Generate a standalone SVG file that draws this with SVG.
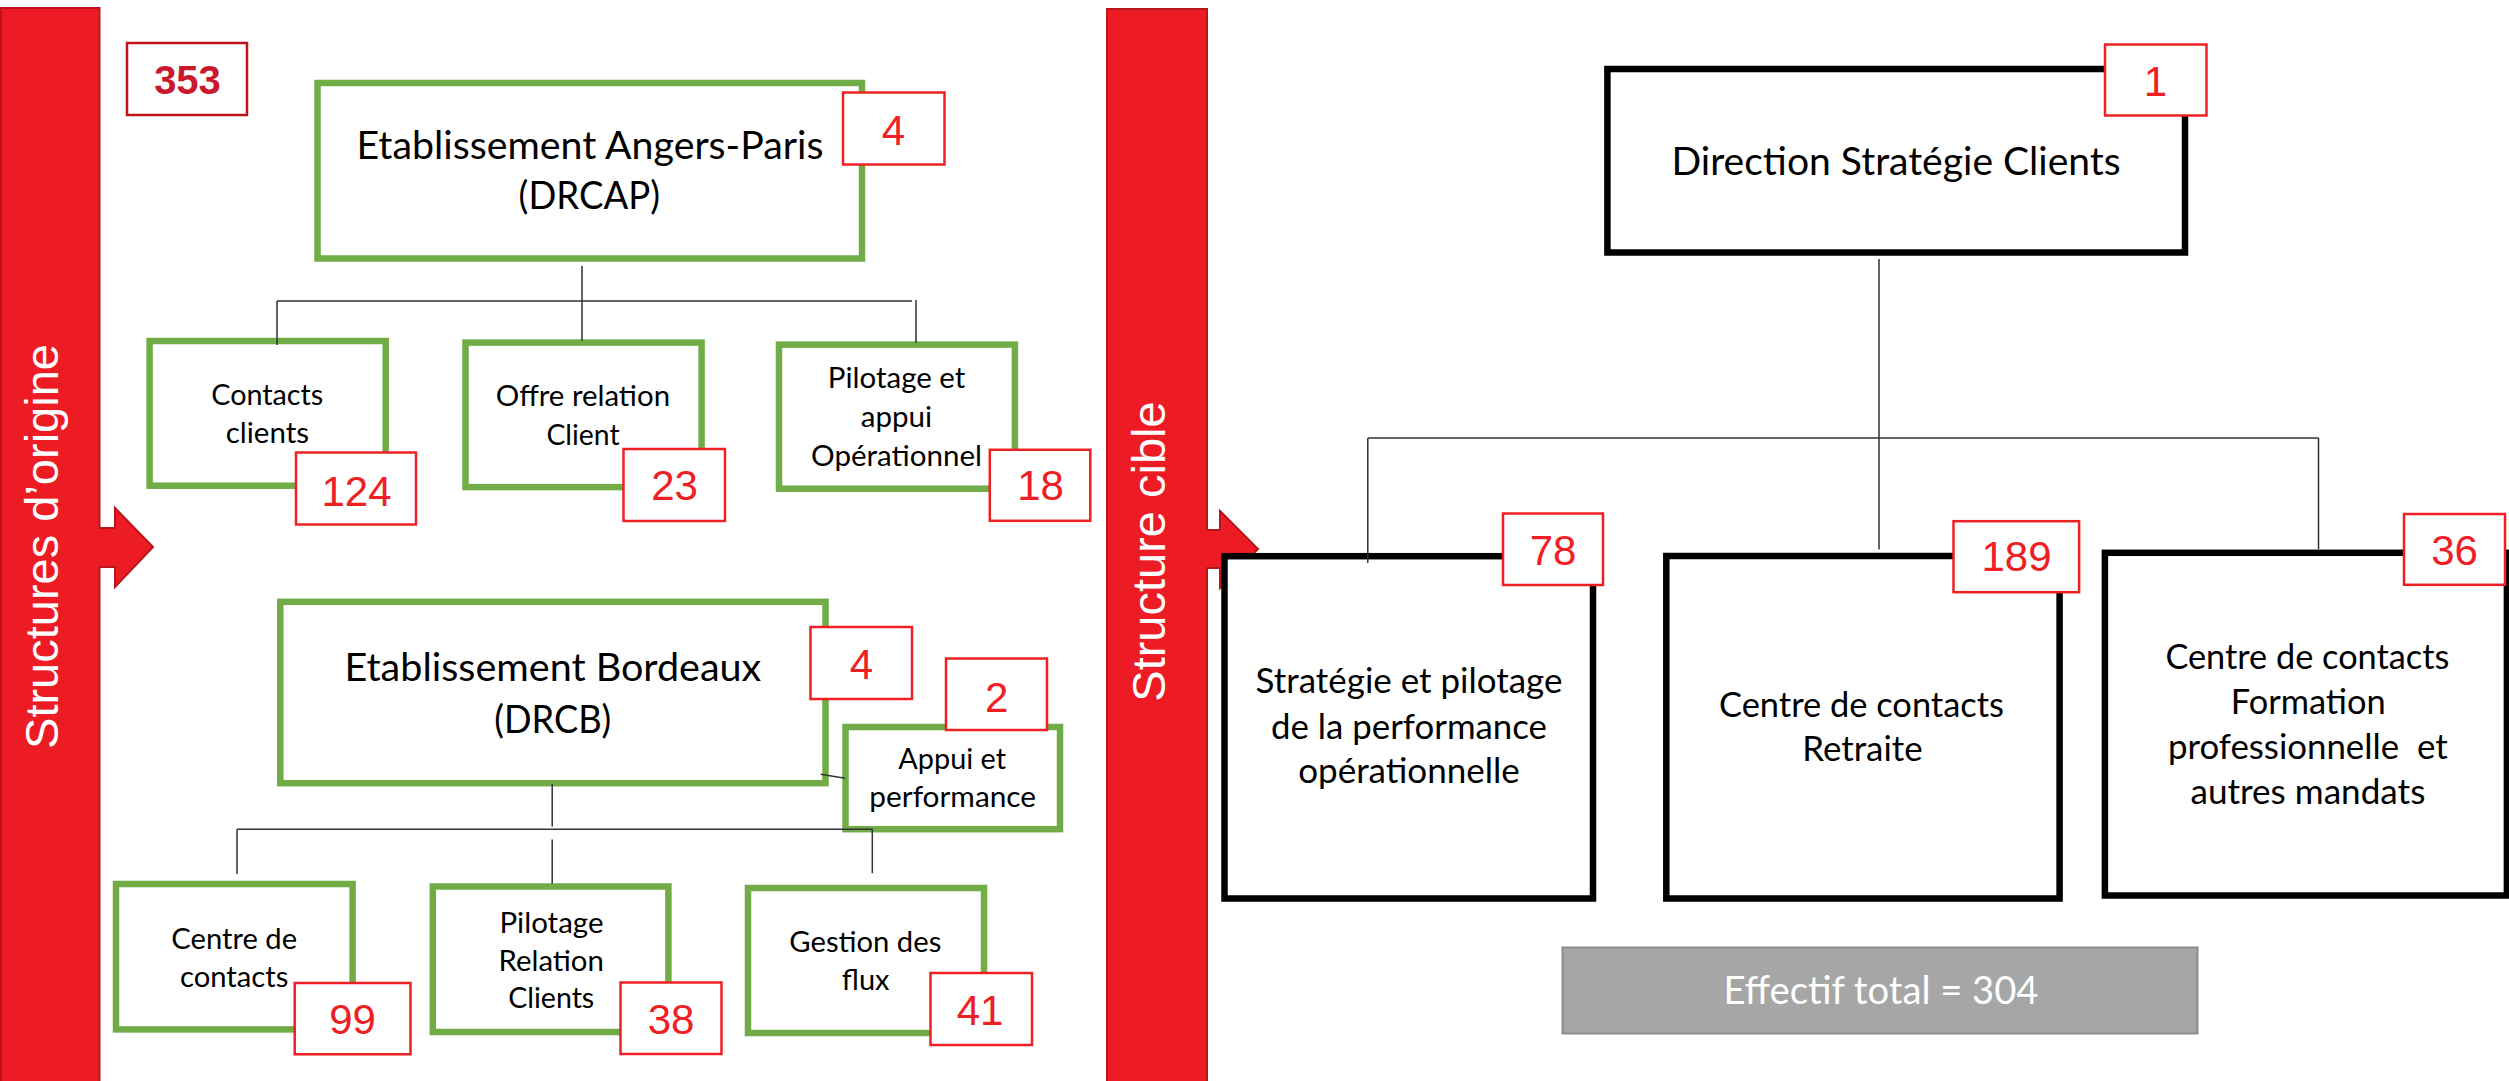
<svg xmlns="http://www.w3.org/2000/svg" width="2509" height="1081" viewBox="0 0 2509 1081">
<style>
.g{fill:#fff;stroke:#70AD47;stroke-width:6.5}
.k{fill:#fff;stroke:#000;stroke-width:6.5}
.n{fill:#fff;stroke:#EE2024;stroke-width:2.5}
.nt{font-family:"Liberation Sans",Arial,sans-serif;font-size:42px;fill:#EE2024;text-anchor:middle}
.t{font-family:Lato,"Open Sans",sans-serif;fill:#000;text-anchor:middle}
.t1{font-size:38px}
.t2{font-size:29.5px}
.t3{font-size:34px}
.bar{fill:#ED1C24;stroke:#B8151C;stroke-width:2}
.bt{font-family:"Liberation Sans",Arial,sans-serif;font-size:47px;fill:#fff;text-anchor:middle}
.conn{fill:none;stroke:#333;stroke-width:1.5}
</style>
<rect width="2509" height="1081" fill="#fff"/>

<g id="bar-origine">
<path class="bar" d="M1,8 H99.5 V528 H115 V508 L153,547 L115,587 V567 H99.5 V1090 H1 Z"/>
<text class="bt" transform="translate(58,546.5) rotate(-90)">Structures d’origine</text>
</g>
<g id="bar-cible">
<path class="bar" d="M1107,9 H1207 V530 H1220 V511 L1258,549 L1220,588 V568 H1207 V1090 H1107 Z"/>
<text class="bt" transform="translate(1165,551.5) rotate(-90)">Structure cible</text>
</g>

<g id="total-353">
<rect x="127" y="43" width="120" height="72" fill="#fff" stroke="#C0141B" stroke-width="2.5"/>
<text x="187.5" y="94" font-family="'Liberation Sans',Arial,sans-serif" font-size="40" font-weight="bold" fill="#C8192E" text-anchor="middle">353</text>
</g>

<g id="drcap">
<rect class="g" x="317.5" y="83" width="544.5" height="175.5"/>
<text class="t t1" x="590" y="158.6" textLength="467" lengthAdjust="spacingAndGlyphs">Etablissement Angers-Paris</text>
<text class="t t1" x="589.3" y="209" textLength="141.4" lengthAdjust="spacingAndGlyphs">(DRCAP)</text>
<rect class="n" x="843" y="92.5" width="101.5" height="72"/>
<text class="nt" x="893.5" y="145">4</text>
</g>

<g id="contacts-clients">
<rect class="g" x="149.6" y="341" width="236.1" height="144.7"/>
<text class="t t2" x="267.3" y="405" textLength="112" lengthAdjust="spacingAndGlyphs">Contacts</text>
<text class="t t2" x="267.4" y="443" textLength="83.3" lengthAdjust="spacingAndGlyphs">clients</text>
<rect class="n" x="296" y="452.5" width="120" height="72"/>
<text class="nt" x="356.5" y="505.7">124</text>
</g>

<g id="offre-relation">
<rect class="g" x="465.5" y="342.6" width="236.1" height="144.5"/>
<text class="t t2" x="582.9" y="405.7" textLength="174.3" lengthAdjust="spacingAndGlyphs">Offre relation</text>
<text class="t t2" x="583" y="445" textLength="73.2" lengthAdjust="spacingAndGlyphs">Client</text>
<rect class="n" x="623.5" y="449" width="101.5" height="72"/>
<text class="nt" x="674.5" y="500.4">23</text>
</g>

<g id="pilotage-appui">
<rect class="g" x="779" y="344.6" width="235.9" height="144.1"/>
<text class="t t2" x="896.6" y="387.9" textLength="137.5" lengthAdjust="spacingAndGlyphs">Pilotage et</text>
<text class="t t2" x="896.4" y="427" textLength="71.4" lengthAdjust="spacingAndGlyphs">appui</text>
<text class="t t2" x="896.6" y="465.7" textLength="171" lengthAdjust="spacingAndGlyphs">Opérationnel</text>
<rect class="n" x="989.8" y="449.8" width="100.5" height="71"/>
<text class="nt" x="1040.5" y="500.4">18</text>
</g>

<g id="drcb">
<rect class="g" x="280.3" y="601.8" width="545.2" height="181.4"/>
<text class="t t1" x="552.9" y="681.2" textLength="416.8" lengthAdjust="spacingAndGlyphs">Etablissement Bordeaux</text>
<text class="t t1" x="552.8" y="732.9" textLength="117" lengthAdjust="spacingAndGlyphs">(DRCB)</text>
<rect class="n" x="810.5" y="627" width="101.5" height="72"/>
<text class="nt" x="861.5" y="679">4</text>
</g>

<g id="appui-performance">
<rect class="g" x="845.5" y="727" width="214.5" height="102.2" stroke-width="5.5"/>
<text class="t t2" x="952.2" y="769.3" textLength="107.7" lengthAdjust="spacingAndGlyphs">Appui et</text>
<text class="t t2" x="952.7" y="807.3" textLength="166.7" lengthAdjust="spacingAndGlyphs">performance</text>
<rect class="n" x="946" y="658.5" width="101" height="71.5"/>
<text class="nt" x="996.8" y="711.7">2</text>
</g>

<g id="centre-contacts">
<rect class="g" x="116" y="884" width="236.6" height="145.4"/>
<text class="t t2" x="234.2" y="949.1" textLength="125.7" lengthAdjust="spacingAndGlyphs">Centre de</text>
<text class="t t2" x="234.2" y="986.7" textLength="108.5" lengthAdjust="spacingAndGlyphs">contacts</text>
<rect class="n" x="294.7" y="983" width="115.8" height="71.3"/>
<text class="nt" x="352.5" y="1034.2">99</text>
</g>

<g id="pilotage-relation">
<rect class="g" x="432.8" y="886.5" width="235.6" height="145.5"/>
<text class="t t2" x="551.5" y="932.6" textLength="104" lengthAdjust="spacingAndGlyphs">Pilotage</text>
<text class="t t2" x="551.2" y="970.5" textLength="105.3" lengthAdjust="spacingAndGlyphs">Relation</text>
<text class="t t2" x="551.2" y="1008.4" textLength="86.1" lengthAdjust="spacingAndGlyphs">Clients</text>
<rect class="n" x="620.5" y="982.5" width="101" height="71.5"/>
<text class="nt" x="671" y="1034">38</text>
</g>

<g id="gestion-flux">
<rect class="g" x="748" y="888" width="236" height="145"/>
<text class="t t2" x="865.3" y="952.3" textLength="152" lengthAdjust="spacingAndGlyphs">Gestion des</text>
<text class="t t2" x="865.7" y="990.3" textLength="47.7" lengthAdjust="spacingAndGlyphs">flux</text>
<rect class="n" x="930.5" y="973" width="101.5" height="72"/>
<text class="nt" x="980" y="1024.8">41</text>
</g>

<g id="direction">
<rect class="k" x="1607.4" y="69" width="577.6" height="183.5"/>
<text class="t t1" x="1896.1" y="174.9" textLength="449.2" lengthAdjust="spacingAndGlyphs">Direction Stratégie Clients</text>
<rect class="n" x="2105" y="44.5" width="101.5" height="71"/>
<text class="nt" x="2155.5" y="95.8">1</text>
</g>

<g id="strategie">
<rect class="k" x="1224.5" y="556.2" width="368.5" height="342.3"/>
<text class="t t3" x="1409" y="693.4" textLength="306.8" lengthAdjust="spacingAndGlyphs">Stratégie et pilotage</text>
<text class="t t3" x="1409" y="739" textLength="276" lengthAdjust="spacingAndGlyphs">de la performance</text>
<text class="t t3" x="1409" y="783.4" textLength="221.7" lengthAdjust="spacingAndGlyphs">opérationnelle</text>
<rect class="n" x="1503" y="513.5" width="100" height="71.5"/>
<text class="nt" x="1553" y="564.8">78</text>
</g>

<g id="retraite">
<rect class="k" x="1666.3" y="556" width="393.3" height="342.5"/>
<text class="t t3" x="1861.5" y="716.7" textLength="285" lengthAdjust="spacingAndGlyphs">Centre de contacts</text>
<text class="t t3" x="1862.4" y="761.2" textLength="120.4" lengthAdjust="spacingAndGlyphs">Retraite</text>
<rect class="n" x="1953.5" y="521.2" width="125.6" height="71"/>
<text class="nt" x="2016.5" y="571.4">189</text>
</g>

<g id="formation">
<rect class="k" x="2104.9" y="552.8" width="402" height="342.7"/>
<text class="t t3" x="2307.4" y="668.7" textLength="284" lengthAdjust="spacingAndGlyphs">Centre de contacts</text>
<text class="t t3" x="2308.2" y="714.2" textLength="155" lengthAdjust="spacingAndGlyphs">Formation</text>
<text class="t t3" x="2307.8" y="759" textLength="279.7" lengthAdjust="spacingAndGlyphs" xml:space="preserve">professionnelle  et</text>
<text class="t t3" x="2307.9" y="803.7" textLength="234.9" lengthAdjust="spacingAndGlyphs">autres mandats</text>
<rect class="n" x="2404" y="514" width="101" height="70.8"/>
<text class="nt" x="2454.6" y="565.4">36</text>
</g>

<g id="effectif-total">
<rect x="1562.5" y="947.5" width="635" height="86" fill="#A6A6A6" stroke="#8C8C8C" stroke-width="2"/>
<text class="t t1" x="1881" y="1003.9" fill="#fff" style="fill:#fff" textLength="315" lengthAdjust="spacingAndGlyphs">Effectif total = 304</text>
</g>

<g id="connectors">
<path class="conn" d="M582,266 V341 M277,301 H912 M277,301 V345 M916,300 V343"/>
<path class="conn" d="M552.2,783.8 V826.5 M552.2,839.6 V883.7 M237,829.3 H872.3 V873.3 M237,829.3 V874 M820.7,774.3 L845,778.3"/>
<path class="conn" d="M1879,259 V549.5 M1367.8,438 H2318.5 M1367.8,438 V563 M2318.5,438 V549"/>
</g>
</svg>
